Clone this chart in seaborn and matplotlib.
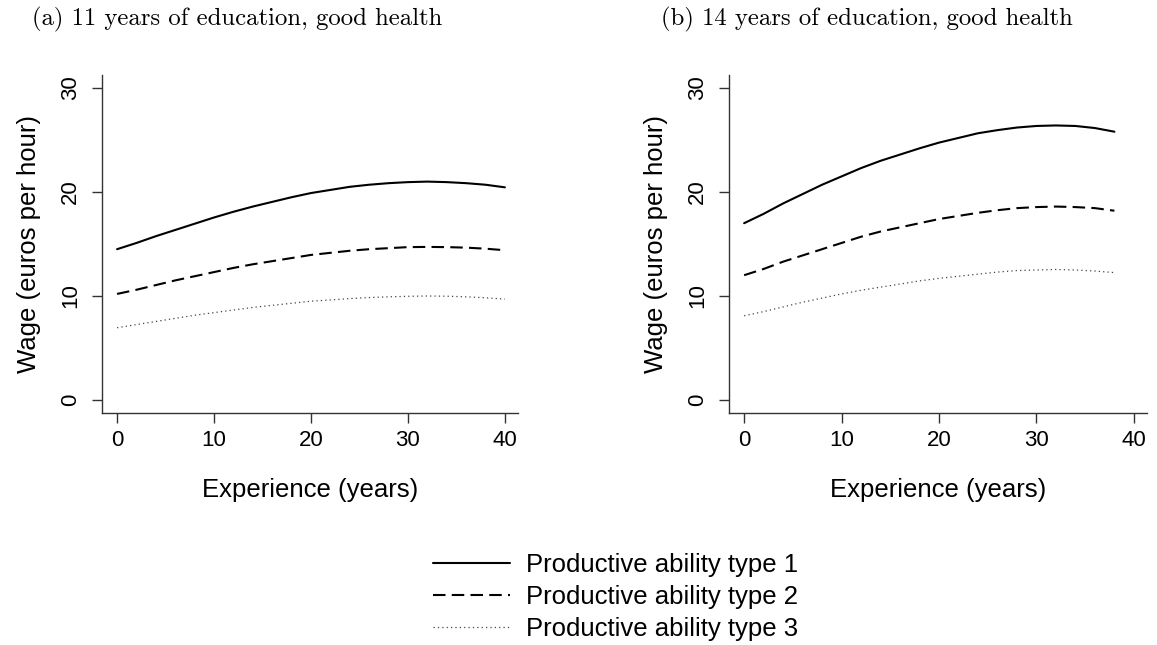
import pandas as pd
import seaborn as sns
import matplotlib.pyplot as plt
from matplotlib.lines import Line2D

# experience grids (years)
exp_a = [0, 2, 4, 6, 8, 10, 12, 14, 16, 18, 20, 22, 24, 26, 28, 30, 32, 34, 36, 38, 40]
exp_b = [0, 2, 4, 6, 8, 10, 12, 14, 16, 18, 20, 22, 24, 26, 28, 30, 32, 34, 36, 38]

# (a) 11 years of education, good health
wage_a1 = [14.5, 15.1, 15.75, 16.35, 16.95, 17.55, 18.1, 18.6, 19.05, 19.5, 19.9,
           20.2, 20.5, 20.7, 20.85, 20.95, 21.0, 20.95, 20.85, 20.7, 20.45]
wage_a2 = [10.2, 10.6, 11.05, 11.5, 11.9, 12.3, 12.7, 13.05, 13.35, 13.65, 13.95,
           14.15, 14.35, 14.5, 14.6, 14.7, 14.72, 14.7, 14.65, 14.55, 14.4]
wage_a3 = [6.95, 7.25, 7.55, 7.85, 8.15, 8.4, 8.65, 8.9, 9.1, 9.3, 9.5,
           9.62, 9.75, 9.85, 9.92, 9.97, 10.0, 9.98, 9.92, 9.83, 9.7]

# (b) 14 years of education, good health
wage_b1 = [17.0, 17.9, 18.9, 19.8, 20.7, 21.5, 22.3, 23.0, 23.6, 24.2,
           24.75, 25.2, 25.65, 25.95, 26.2, 26.35, 26.4, 26.35, 26.15, 25.8]
wage_b2 = [12.0, 12.6, 13.3, 13.9, 14.5, 15.1, 15.7, 16.2, 16.6, 17.0,
           17.4, 17.7, 18.0, 18.25, 18.45, 18.55, 18.6, 18.55, 18.45, 18.2]
wage_b3 = [8.1, 8.5, 8.95, 9.4, 9.8, 10.2, 10.55, 10.85, 11.15, 11.45,
           11.7, 11.9, 12.1, 12.3, 12.45, 12.5, 12.55, 12.5, 12.4, 12.25]

types = ['Productive ability type 1', 'Productive ability type 2', 'Productive ability type 3']
titles = ['(a) 11 years of education, good health', '(b) 14 years of education, good health']

sns.set_style('ticks')
plt.rcParams['font.family'] = ['Liberation Sans', 'DejaVu Sans']
plt.rcParams['text.color'] = 'black'
plt.rcParams['axes.labelcolor'] = 'black'
plt.rcParams['xtick.color'] = 'black'
plt.rcParams['ytick.color'] = 'black'

styles = [
    dict(color='black', linewidth=1.5, linestyle='-'),
    dict(color='black', linewidth=1.5, linestyle=(0, (6, 3))),
    dict(color='#444444', linewidth=0.9, linestyle=(0, (1, 2.5))),
]

fig = plt.figure(figsize=(11.57, 6.45), dpi=100)
ax_a = fig.add_axes([0.0882, 0.3597, 0.3595, 0.524])
ax_b = fig.add_axes([0.6301, 0.3597, 0.3613, 0.524])

panels = [
    (ax_a, exp_a, [wage_a1, wage_a2, wage_a3]),
    (ax_b, exp_b, [wage_b1, wage_b2, wage_b3]),
]

for ax, exp, series in panels:
    for label, wage, st in zip(types, series, styles):
        df = pd.DataFrame({'exp': exp, 'wage': wage})
        sns.lineplot(df, x='exp', y='wage', ax=ax, label=label, legend=False, **st)
    ax.set_xlim(-1.55, 41.35)
    ax.set_ylim(-1.25, 31.25)
    ax.set_xticks([0, 10, 20, 30, 40])
    ax.set_yticks([0, 10, 20, 30])
    ax.set_xlabel('Experience (years)', fontsize=18.5, labelpad=20)
    ax.set_ylabel('Wage (euros per hour)', fontsize=18.5, labelpad=14)
    ax.tick_params(axis='both', labelsize=16, length=7, width=1, color='#333333')
    ax.tick_params(axis='x', pad=5)
    ax.tick_params(axis='y', labelrotation=90, pad=8)
    for lab in ax.get_yticklabels():
        lab.set_verticalalignment('center')
    sns.despine(ax=ax)
    for s in ['left', 'bottom']:
        ax.spines[s].set_linewidth(1)
        ax.spines[s].set_color('#333333')

fig.text(0.028, 0.970, titles[0], fontsize=17.8, family='cmr10', va='center', ha='left')
fig.text(0.571, 0.970, titles[1], fontsize=17.8, family='cmr10', va='center', ha='left')

handles = [Line2D([], [], **st) for st in styles]
fig.legend(handles, types, loc='center', bbox_to_anchor=(0.532, 0.0744), frameon=False,
           fontsize=18.5, labelspacing=0.32, handlelength=3.0, handletextpad=0.65)

fig.savefig('out.png', dpi=100)
